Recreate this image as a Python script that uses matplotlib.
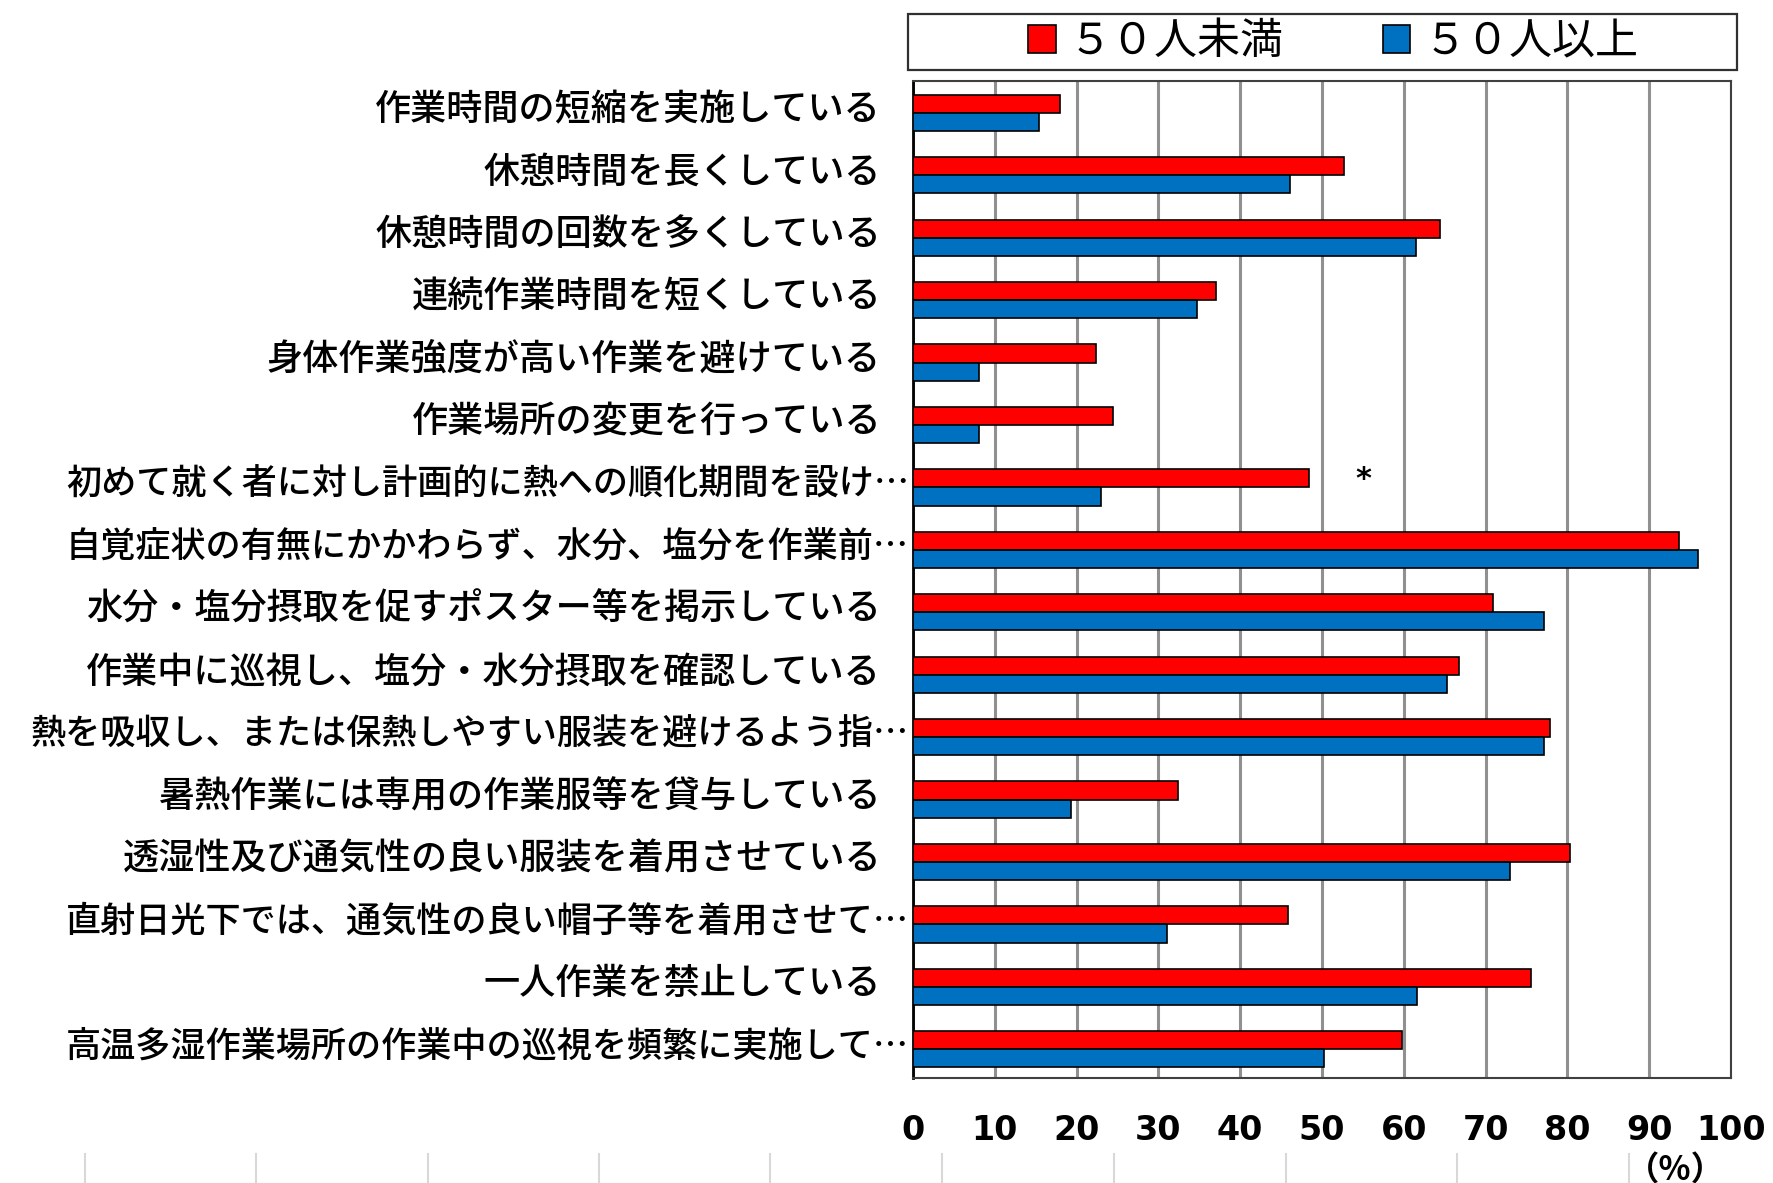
import matplotlib
matplotlib.use("Agg")
import matplotlib.pyplot as plt
from matplotlib.patches import Rectangle, Patch
from matplotlib.lines import Line2D
import numpy as np

plt.rcParams['font.family'] = ['Noto Sans CJK JP', 'DejaVu Sans']

categories = [
    "作業時間の短縮を実施している",
    "休憩時間を長くしている",
    "休憩時間の回数を多くしている",
    "連続作業時間を短くしている",
    "身体作業強度が高い作業を避けている",
    "作業場所の変更を行っている",
    "初めて就く者に対し計画的に熱への順化期間を設け…",
    "自覚症状の有無にかかわらず、水分、塩分を作業前…",
    "水分・塩分摂取を促すポスター等を掲示している",
    "作業中に巡視し、塩分・水分摂取を確認している",
    "熱を吸収し、または保熱しやすい服装を避けるよう指…",
    "暑熱作業には専用の作業服等を貸与している",
    "透湿性及び通気性の良い服装を着用させている",
    "直射日光下では、通気性の良い帽子等を着用させて…",
    "一人作業を禁止している",
    "高温多湿作業場所の作業中の巡視を頻繁に実施して…",
]
under50 = [18.0, 52.7, 64.4, 37.0, 22.4, 24.4, 48.4, 93.7, 70.9, 66.8,
           77.9, 32.4, 80.3, 45.8, 75.6, 59.8]
over50 = [15.4, 46.1, 61.5, 34.7, 8.1, 8.1, 23.0, 96.0, 77.1, 65.3,
          77.1, 19.3, 73.0, 31.0, 61.6, 50.2]
series_names = ["５０人未満", "５０人以上"]
xticks = list(range(0, 101, 10))
significant_row = 6
marker_x = 55

RED = "#FF0000"
BLUE = "#0070C0"

W, H = 1774, 1183
fig = plt.figure(figsize=(W / 100, H / 100), dpi=100)
ax = fig.add_axes([913 / W, 1 - 1078 / H, (1731 - 913) / W, (1078 - 81) / H])

y = np.arange(len(categories))
bh = 0.29
ax.barh(y - bh / 2, under50, height=bh, color=RED, edgecolor="black",
        linewidth=1.2, zorder=3)
ax.barh(y + bh / 2, over50, height=bh, color=BLUE, edgecolor="black",
        linewidth=1.2, zorder=3)

ax.set_xlim(0, 100)
ax.set_ylim(len(categories) - 0.54, -0.51)
ax.set_xticks(xticks)
ax.set_xticklabels([str(t) for t in xticks], family="DejaVu Sans",
                   fontweight="bold", fontsize=24)
ax.tick_params(axis="x", length=0, pad=26)
ax.tick_params(axis="y", length=0)
ax.set_yticks([])
ax.grid(axis="x", color="#909090", linewidth=2.2, zorder=1)

for s in ["top", "right", "bottom"]:
    ax.spines[s].set_color("#404040")
    ax.spines[s].set_linewidth(1.5)
ax.spines["left"].set_color("black")
ax.spines["left"].set_linewidth(2)

# category labels; truncated ones run up to the axis
for i, label in enumerate(categories):
    if label.endswith("…"):
        xpos, size = -0.5, 25.3
    else:
        xpos, size = -3.9, 26
    ax.text(xpos, i - 0.04, label, ha="right", va="center", fontsize=size,
            fontweight="medium", color="black",
            transform=ax.transData, clip_on=False)

# significance mark
ax.text(marker_x, significant_row - 0.12, "*", ha="center", va="center",
        fontsize=22, fontweight="bold", family="DejaVu Sans", zorder=4)

# unit label
fig.text(1675 / W, 1 - 1170 / H, "（%）", ha="center", va="center",
         fontsize=24, fontweight="bold")

# legend frame and entries
fig.patches.append(Rectangle((908 / W, 1 - 70 / H), (1737 - 908) / W,
                             (70 - 14) / H, transform=fig.transFigure,
                             facecolor="white", edgecolor="#303030",
                             linewidth=1.6, zorder=0))
handles = [Patch(facecolor=RED, edgecolor="black", linewidth=1.2),
           Patch(facecolor=BLUE, edgecolor="black", linewidth=1.2)]
leg = fig.legend(handles, series_names, loc="center",
                 bbox_to_anchor=(1333 / W, 1 - 42 / H), ncol=2,
                 frameon=False, fontsize=31, handlelength=0.65,
                 handleheight=0.65, handletextpad=0.3, columnspacing=2.3)

# faint separator ticks along the bottom edge
for xp in [85, 256, 428, 599, 770, 942, 1114, 1286, 1457, 1629]:
    fig.add_artist(Line2D([xp / W, xp / W], [0, 1 - 1154 / H],
                          transform=fig.transFigure, color="#D8D8D8",
                          linewidth=1.5))

fig.savefig("out.png", dpi=100, facecolor="white")
